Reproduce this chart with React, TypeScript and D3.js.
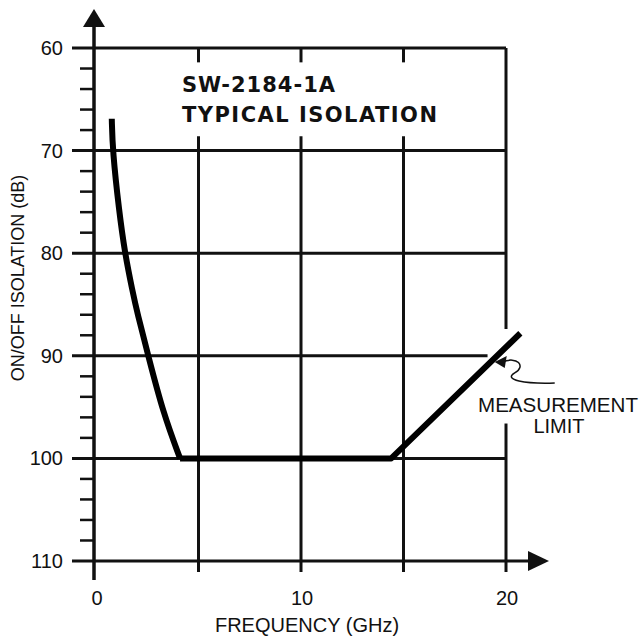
import React from 'react';
import * as d3 from 'd3';

// isolation curve
const freqGHz = [0.77, 0.81, 1.12, 1.41, 1.77, 2.01, 2.55, 3.28, 4.1, 14.4, 20.7];
const isolationDb = [66.9, 70, 75.8, 80, 83.6, 85.8, 90, 95.6, 100, 100, 87.8];
const rollOffCount = 9; // first points form the curved roll-off

const xTickValues = [0, 10, 20];
const xGridValues = [5, 10, 15, 20];
const yTickValues = [60, 70, 80, 90, 100, 110];
const yMinorValues = d3.range(62, 110, 2).filter((v) => v % 10 !== 0);

const titleLines = ['SW-2184-1A', 'TYPICAL ISOLATION'];
const noteLines = ['MEASUREMENT', 'LIMIT'];

const W = 644;
const H = 636;
const FONT = '"Liberation Sans", Arial, Helvetica, sans-serif';

export default function App() {
  const x = d3.scaleLinear().domain([0, 20]).range([96, 506]);
  const y = d3.scaleLinear().domain([60, 110]).range([48, 561]);

  const pts = freqGHz.map((f, i) => [f, isolationDb[i]] as [number, number]);
  const curve = d3
    .line<[number, number]>()
    .x((d) => x(d[0]))
    .y((d) => y(d[1]))
    .curve(d3.curveBasis);
  const straight = d3
    .line<[number, number]>()
    .x((d) => x(d[0]))
    .y((d) => y(d[1]));

  const axisX = x(0) - 2;
  const gridStroke = 3;

  // arrow annotation pointing at the measurement-limit line
  const tipX = x(19.45);
  const tipY = y(90.6);
  const squiggle = d3.path();
  squiggle.moveTo(tipX + 8, tipY);
  squiggle.bezierCurveTo(tipX + 22, tipY - 6, tipX + 32, tipY + 4, tipX + 20, tipY + 11);
  squiggle.bezierCurveTo(tipX + 8, tipY + 18, tipX + 30, tipY + 22, tipX + 60, tipY + 21);

  return (
    <svg
      width={W}
      height={H}
      viewBox={`0 0 ${W} ${H}`}
      style={{ position: 'absolute', left: 0, top: 0, background: '#fff' }}
      fontFamily={FONT}
    >
      {/* vertical grid lines */}
      <g stroke="#111" strokeWidth={gridStroke}>
        {xGridValues.map((v) =>
          v === 20 ? (
            <g key={v}>
              <line x1={x(v)} x2={x(v)} y1={y(60)} y2={y(87.4)} />
              <line x1={x(v)} x2={x(v)} y1={y(96.6)} y2={y(110) + 11} />
            </g>
          ) : (
            <g key={v}>
              <line x1={x(v)} x2={x(v)} y1={y(60)} y2={y(61.4)} />
              <line x1={x(v)} x2={x(v)} y1={y(68.6)} y2={y(110) + 11} />
            </g>
          ),
        )}
      </g>

      {/* horizontal grid lines */}
      <g stroke="#111" strokeWidth={gridStroke}>
        {yTickValues.map((v) => (
          <line
            key={v}
            x1={72}
            x2={v === 110 ? 532 : v === 90 ? x(19.1) : x(20)}
            y1={y(v)}
            y2={y(v)}
          />
        ))}
      </g>

      {/* minor y ticks */}
      <g stroke="#111" strokeWidth={2.5}>
        {yMinorValues.map((v) => (
          <line key={v} x1={80} x2={axisX} y1={y(v)} y2={y(v)} />
        ))}
      </g>

      {/* y axis with arrow */}
      <line x1={axisX} x2={axisX} y1={22} y2={580} stroke="#111" strokeWidth={3.5} />
      <path d={`M${axisX},9 L${axisX - 11},27 L${axisX + 11},27 Z`} fill="#111" />
      {/* x axis arrow */}
      <path d={`M549,${y(110)} L528,${y(110) - 10} L528,${y(110) + 10} Z`} fill="#111" />

      {/* y tick labels */}
      <g fontSize={20} textAnchor="end" fill="#111">
        {yTickValues.map((v) => (
          <text key={v} x={63} y={y(v)} dy="0.35em">
            {v}
          </text>
        ))}
      </g>

      {/* x tick labels */}
      <g fontSize={20} textAnchor="middle" fill="#111">
        {xTickValues.map((v) => (
          <text key={v} x={x(v) + 1} y={605}>
            {v}
          </text>
        ))}
      </g>

      <text x={307} y={632} fontSize={20} textAnchor="middle" fill="#111">
        FREQUENCY (GHz)
      </text>
      <text
        transform="translate(24,278) rotate(-90)"
        fontSize={18}
        textAnchor="middle"
        fill="#111"
      >
        ON/OFF ISOLATION (dB)
      </text>

      {/* title */}
      <g fontSize={21} fontWeight="bold" fill="#111" fontFamily='"DejaVu Sans", sans-serif'>
        <text x={182} y={92} textLength={153} lengthAdjust="spacing">
          {titleLines[0]}
        </text>
        <text x={182} y={122} textLength={255} lengthAdjust="spacing">
          {titleLines[1]}
        </text>
      </g>

      {/* isolation curve */}
      <path
        d={curve(pts.slice(0, rollOffCount)) || ''}
        fill="none"
        stroke="#000"
        strokeWidth={6}
        strokeLinejoin="round"
      />
      <path
        d={straight(pts.slice(rollOffCount - 1)) || ''}
        fill="none"
        stroke="#000"
        strokeWidth={6}
        strokeLinejoin="round"
      />

      {/* measurement limit note */}
      <path d={squiggle.toString()} fill="none" stroke="#111" strokeWidth={1.5} />
      <path
        d={`M${tipX},${tipY} L${tipX + 12},${tipY - 6} L${tipX + 10},${tipY + 6} Z`}
        fill="#111"
      />
      <g fontSize={20} textAnchor="middle" fill="#111">
        <text x={558} y={412} textLength={160} lengthAdjust="spacingAndGlyphs">
          {noteLines[0]}
        </text>
        <text x={559} y={433}>
          {noteLines[1]}
        </text>
      </g>
    </svg>
  );
}
